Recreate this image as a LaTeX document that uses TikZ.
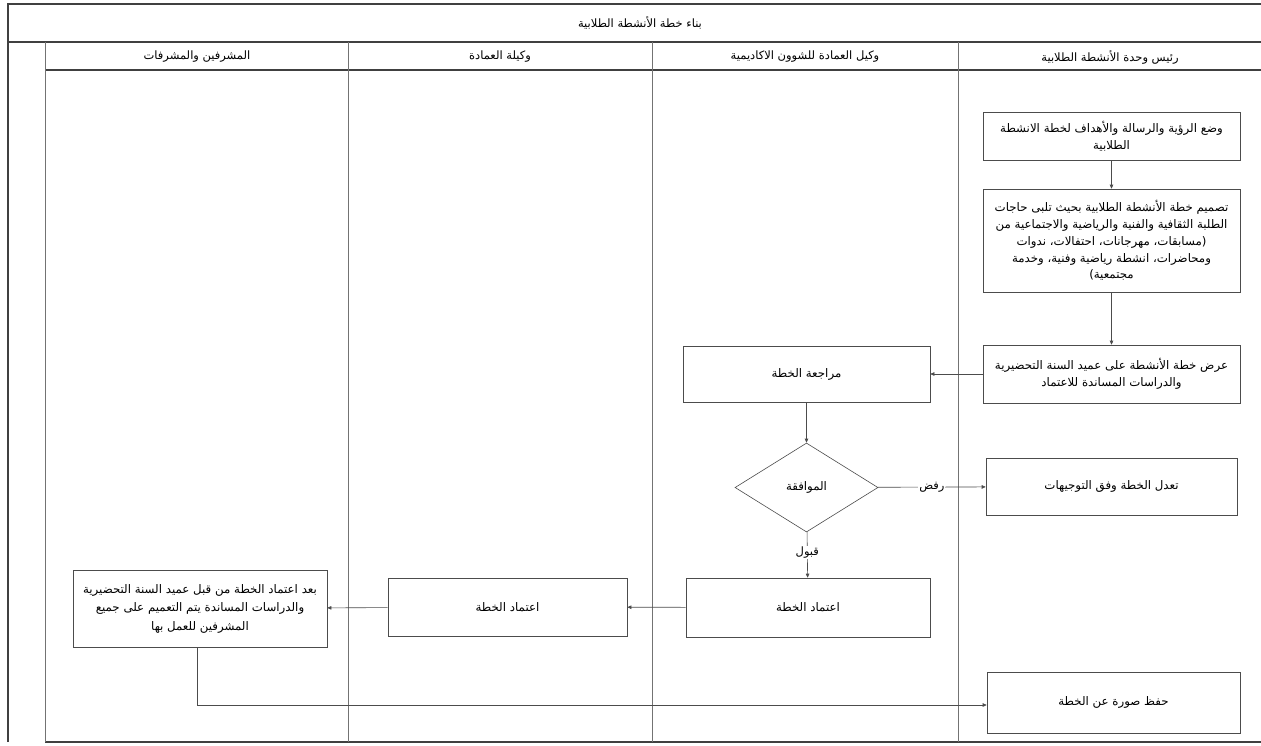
\documentclass[tikz,border=0pt]{standalone}
\usepackage{fontspec}
\usetikzlibrary{shapes.geometric,arrows.meta}
\TeXXeTstate=1
\newfontfamily\arabicfont[Script=Arabic]{DejaVu Sans}
\newcommand{\ar}[1]{{\arabicfont\beginR #1\endR}}
\begin{document}
\begin{tikzpicture}[x=1pt,y=-1pt,
  frame/.style={draw=black!75,line width=1.1pt},
  lane/.style={draw=black!55,line width=0.5pt},
  box/.style={draw=black!70,line width=0.6pt,rectangle,inner sep=2pt,align=center,
     font=\fontsize{11.8}{16.8}\selectfont},
  dia/.style={draw=black!70,line width=0.6pt,diamond,inner sep=0pt,
     font=\fontsize{11.8}{16.8}\selectfont},
  hdr/.style={font=\fontsize{11.5}{14}\selectfont,inner sep=1pt},
  lbl/.style={fill=white,inner sep=1pt,font=\fontsize{11.5}{14}\selectfont},
  conn/.style={draw=black!70,line width=0.6pt,-{Triangle[length=4pt,width=3.5pt]}}]
\useasboundingbox (0,0) rectangle (1261,745);
\fill[white] (0,0) rectangle (1261,745);
% frame
\draw[frame] (8,742) -- (8,4) -- (1261,4);
\draw[frame] (8,42) -- (1261,42);
\draw[frame] (45,70) -- (1261,70);
\draw[frame] (45,742) -- (1261,742);
\draw[lane] (45,42) -- (45,742);
\draw[lane] (348,42) -- (348,742);
\draw[lane] (652,42) -- (652,742);
\draw[lane] (958,42) -- (958,742);
% title and headers
\node[hdr] (title) at (640,23) {\ar{بناء خطة الأنشطة الطلابية}};
\node[hdr] (h1) at (197,57) {\ar{المشرفين والمشرفات}};
\node[hdr] (h2) at (500,57) {\ar{وكيلة العمادة}};
\node[hdr] (h3) at (805,57) {\ar{وكيل العمادة للشوون الاكاديمية}};
\node[hdr] (h4) at (1110,57) {\ar{رئيس وحدة الأنشطة الطلابية}};
% boxes
\node[box,minimum width=257pt,minimum height=48pt] (b1) at (1111.5,136)
  {\ar{وضع الرؤية والرسالة والأهداف لخطة الانشطة}\\\ar{الطلابية}};
\node[box,minimum width=257pt,minimum height=103pt] (b2) at (1111.5,240.5)
  {\ar{تصميم خطة الأنشطة الطلابية بحيث تلبى حاجات}\\
   \ar{الطلبة الثقافية والفنية والرياضية والاجتماعية من}\\
   \ar{(مسابقات، مهرجانات، احتفالات، ندوات}\\
   \ar{ومحاضرات، انشطة رياضية وفنية، وخدمة}\\
   \ar{مجتمعية)}};
\node[box,minimum width=257pt,minimum height=58pt] (b3) at (1111.5,374)
  {\ar{عرض خطة الأنشطة على عميد السنة التحضيرية}\\\ar{والدراسات المساندة للاعتماد}};
\node[box,minimum width=247pt,minimum height=56pt] (rev) at (806.5,374)
  {\ar{مراجعة الخطة}};
\node[dia,minimum width=143pt,minimum height=89pt] (dec) at (806.5,487.5)
  {\ar{الموافقة}};
\node[box,minimum width=251pt,minimum height=57pt] (mod) at (1111.5,486.5)
  {\ar{تعدل الخطة وفق التوجيهات}};
\node[box,minimum width=244pt,minimum height=59pt] (ap3) at (808,607.5)
  {\ar{اعتماد الخطة}};
\node[box,minimum width=239pt,minimum height=58pt] (ap2) at (507.5,607)
  {\ar{اعتماد الخطة}};
\node[box,minimum width=254pt,minimum height=77pt,font=\fontsize{11.8}{18.5}\selectfont] (ap1) at (200,608.5)
  {\ar{بعد اعتماد الخطة من قبل عميد السنة التحضيرية}\\
   \ar{والدراسات المساندة يتم التعميم على جميع}\\
   \ar{المشرفين للعمل بها}};
\node[box,minimum width=253pt,minimum height=61pt] (save) at (1113.5,702.5)
  {\ar{حفظ صورة عن الخطة}};
\coordinate (corner) at (197,705);
% connectors
\draw[conn] (b1) -- (b2);
\draw[conn] (b2) -- (b3);
\draw[conn] (b3) -- (rev);
\draw[conn] (rev) -- (dec);
\draw[conn] (dec) -- node[lbl] {\ar{رفض}} (mod);
\draw[conn] (dec) -- node[lbl,pos=0.45] {\ar{قبول}} (ap3);
\draw[conn] (ap3) -- (ap2);
\draw[conn] (ap2) -- (ap1);
\draw[conn] (ap1.south -| corner) -- (corner) -- (save.west |- corner);
\end{tikzpicture}
\end{document}
